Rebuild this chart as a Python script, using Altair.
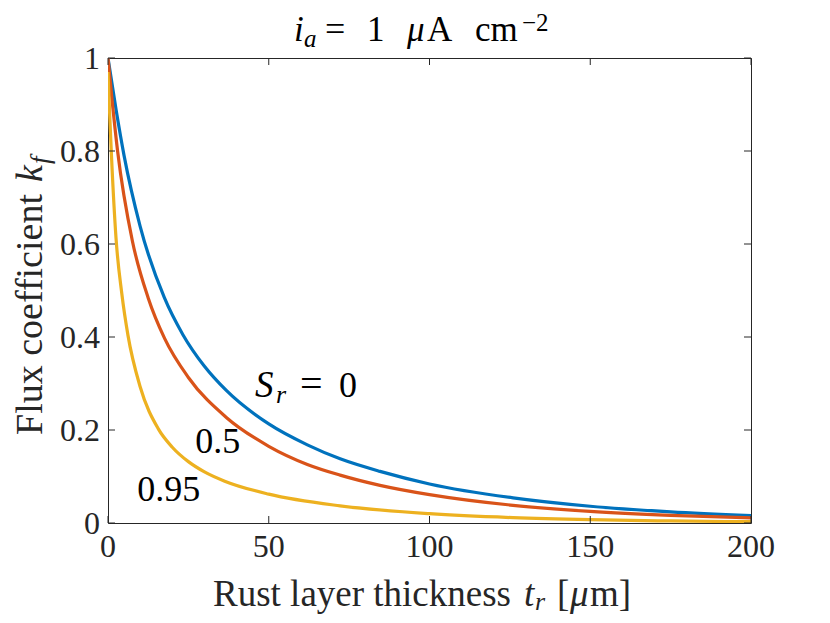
import altair as alt
import pandas as pd

# ---- data ----
sr_labels = ["0", "0.5", "0.95"]
colors = ["#0072BD", "#D95319", "#EDB120"]

t_s0 = [0, 2.5, 5, 10, 17.5, 23.3, 30, 36.8, 50, 62, 72.2, 84.6, 100, 126, 150, 175, 200]
k_s0 = [1.0, 0.889, 0.790, 0.638, 0.485, 0.405, 0.337, 0.285, 0.213, 0.168, 0.138, 0.111, 0.084, 0.054, 0.036, 0.024, 0.016]

t_s05 = [0, 1.2, 3, 7.6, 12.5, 17.6, 25, 36.8, 50, 62, 72.2, 84.6, 100, 126, 150, 175, 200]
k_s05 = [1.0, 0.914, 0.799, 0.606, 0.484, 0.397, 0.313, 0.227, 0.165, 0.126, 0.103, 0.081, 0.061, 0.038, 0.025, 0.0165, 0.011]

t_s095 = [0, 0.5, 1.1, 2.5, 4.3, 6.2, 10, 15.6, 20, 25, 30, 36.3, 50, 72.2, 100, 126, 150, 175, 200]
k_s095 = [0.97, 0.882, 0.787, 0.612, 0.493, 0.404, 0.293, 0.203, 0.163, 0.132, 0.110, 0.090, 0.062, 0.0368, 0.020, 0.0115, 0.0071, 0.0044, 0.0028]

x_ticks = [0, 50, 100, 150, 200]
x_tick_labels = ["0", "50", "100", "150", "200"]
y_ticks = [0, 0.2, 0.4, 0.6, 0.8, 1]
y_tick_labels = ["0", "0.2", "0.4", "0.6", "0.8", "1"]

# in-plot labels (data coordinates of their left/baseline anchor)
label_t = [45.7, 27.1, 9.1]
label_k = [0.270, 0.151, 0.048]

title_parts = ["i", "a", "=", "1", "μ", "A", "cm", "−2"]
xtitle_parts = ["Rust layer thickness", "t", "r", "[", "μ", "m]"]
ytitle_parts = ["Flux coefficient", "k", "f"]
sr_parts = ["S", "r", "=", "0"]

# ---- styling ----
FONT = "Liberation Serif"
AX = "#262626"
W, H = 643, 465

xscale = alt.Scale(domain=[0, 200], nice=False, zero=False)
yscale = alt.Scale(domain=[0, 1], nice=False, zero=False)

def X(field="t"):
    return alt.X(f"{field}:Q", scale=xscale, axis=None)

def Y(field="k"):
    return alt.Y(f"{field}:Q", scale=yscale, axis=None)

def series_layer(ts, ks, color):
    df = pd.DataFrame({"t": ts, "k": ks})
    return alt.Chart(df).mark_line(
        strokeWidth=3.2, interpolate="monotone", color=color, clip=True
    ).encode(x=X(), y=Y())

layers = [
    series_layer(t_s0, k_s0, colors[0]),
    series_layer(t_s05, k_s05, colors[1]),
    series_layer(t_s095, k_s095, colors[2]),
]

# inward ticks on all four sides
TL = 7
xt = pd.DataFrame({"t": x_ticks, "lab": x_tick_labels})
yt = pd.DataFrame({"k": y_ticks, "lab": y_tick_labels})
layers.append(alt.Chart(xt).mark_rule(color=AX, strokeWidth=1).encode(
    x=X(), y=alt.value(H), y2=alt.value(H - TL)))
layers.append(alt.Chart(xt).mark_rule(color=AX, strokeWidth=1).encode(
    x=X(), y=alt.value(0), y2=alt.value(TL)))
layers.append(alt.Chart(yt).mark_rule(color=AX, strokeWidth=1).encode(
    y=Y(), x=alt.value(0), x2=alt.value(TL)))
layers.append(alt.Chart(yt).mark_rule(color=AX, strokeWidth=1).encode(
    y=Y(), x=alt.value(W - TL), x2=alt.value(W)))

# tick labels (positioned through the scales)
TICKF = 32
layers.append(alt.Chart(xt).mark_text(
    font=FONT, fontSize=TICKF, color=AX, align="center", baseline="alphabetic"
).encode(x=X(), y=alt.value(H + 34), text="lab:N"))
layers.append(alt.Chart(yt).mark_text(
    font=FONT, fontSize=TICKF, color=AX, align="right", baseline="alphabetic", dy=11
).encode(y=Y(), x=alt.value(-8), text="lab:N"))

one = pd.DataFrame({"_": [0]})

def fixed_text(txt, x, y, size, italic=False, angle=0, color="#000000"):
    return alt.Chart(one).mark_text(
        text=txt, font=FONT, fontSize=size,
        fontStyle="italic" if italic else "normal",
        align="left", baseline="alphabetic", angle=angle, color=color,
    ).encode(x=alt.value(x), y=alt.value(y))

def data_text(txt, i, size, italic=False, dx=0, dy=0):
    df = pd.DataFrame({"t": [label_t[i]], "k": [label_k[i]]})
    return alt.Chart(df).mark_text(
        text=txt, font=FONT, fontSize=size,
        fontStyle="italic" if italic else "normal",
        align="left", baseline="alphabetic", dx=dx, dy=dy, color="#000000",
    ).encode(x=X(), y=Y())

# in-plot labels
layers += [
    data_text(sr_parts[0], 0, 37, italic=True),
    data_text(sr_parts[1], 0, 26, italic=True, dx=21, dy=6),
    data_text(sr_parts[2], 0, 40, dx=45),
    data_text(sr_parts[3], 0, 36, dx=84),
    data_text(sr_labels[1], 1, 36),
    data_text(sr_labels[2], 2, 36),
]

# title  i_a = 1 μA cm^-2
TB = -17
layers += [
    fixed_text(title_parts[0], 186, TB, 35, italic=True),
    fixed_text(title_parts[1], 196, TB + 6, 25, italic=True),
    fixed_text(title_parts[2], 217, TB, 36),
    fixed_text(title_parts[3], 259, TB, 35),
    fixed_text(title_parts[4], 299, TB, 35, italic=True),
    fixed_text(title_parts[5], 319, TB, 35),
    fixed_text(title_parts[6], 367, TB, 35),
    fixed_text(title_parts[7], 414, TB - 10, 25),
]

# x-axis title  Rust layer thickness t_r [μm]
XB = 548
layers += [
    fixed_text(xtitle_parts[0], 105, XB, 37, color=AX),
    fixed_text(xtitle_parts[1], 416, XB, 37, italic=True, color=AX),
    fixed_text(xtitle_parts[2], 427, XB + 4, 26, italic=True, color=AX),
    fixed_text(xtitle_parts[3], 449, XB, 37, color=AX),
    fixed_text(xtitle_parts[4], 462, XB, 37, italic=True, color=AX),
    fixed_text(xtitle_parts[5], 482, XB, 37, color=AX),
]

# y-axis title  Flux coefficient k_f (rotated)
YX = -66
layers += [
    fixed_text(ytitle_parts[0], YX, 377, 38, angle=270, color=AX),
    fixed_text(ytitle_parts[1], YX, 124, 38, italic=True, angle=270, color=AX),
    fixed_text(ytitle_parts[2], YX + 7, 106, 27, italic=True, angle=270, color=AX),
]

chart = alt.layer(*layers).properties(
    width=W, height=H,
    autosize=alt.AutoSizeParams(type="none"),
    padding={"left": 100, "top": 50, "right": 60, "bottom": 92},
    background="white",
).configure_view(stroke=AX, strokeWidth=1)

chart.save("out.html", embed_options={"renderer": "svg", "actions": False})
